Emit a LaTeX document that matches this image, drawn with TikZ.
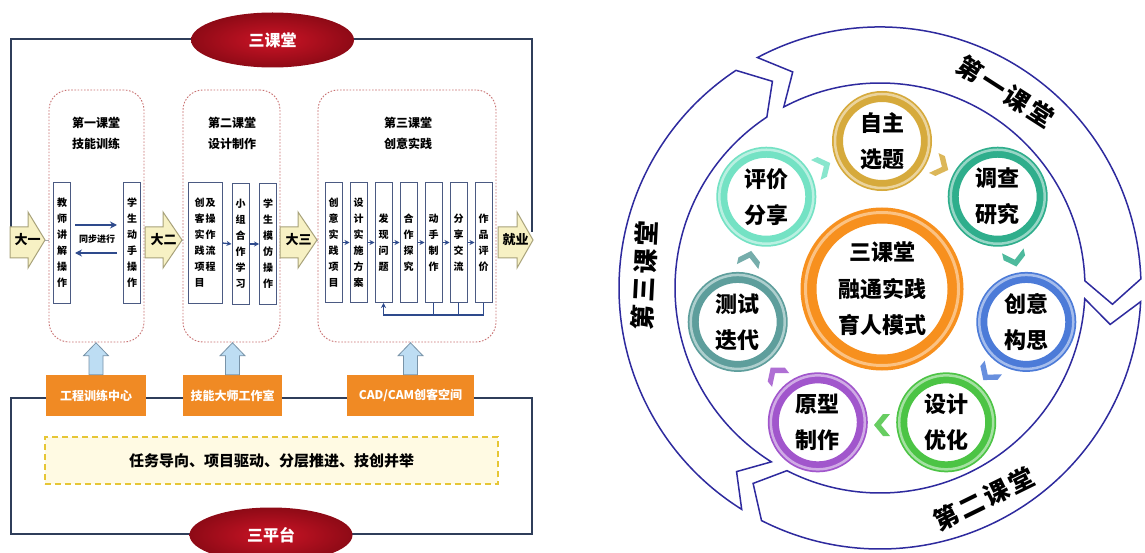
\documentclass[tikz,border=0pt]{standalone}
\usepackage{fontspec}
\setmainfont{Noto Sans CJK SC}
\usetikzlibrary{calc,arrows.meta,shapes.geometric}
\definecolor{framec}{HTML}{2F3E5A}
\definecolor{ellredA}{HTML}{CC1426}
\definecolor{ellredB}{HTML}{8E0A16}
\definecolor{dashred}{HTML}{C87070}
\definecolor{vboxc}{HTML}{4B5A82}
\definecolor{arrfill}{HTML}{F7F1C4}
\definecolor{arrdraw}{HTML}{A8A27A}
\definecolor{navyc}{HTML}{2E4A8C}
\definecolor{orangeb}{HTML}{F08A24}
\definecolor{lbluec}{HTML}{BDDDF3}
\definecolor{lbluedraw}{HTML}{7893A8}
\definecolor{yfillc}{HTML}{FFFAE3}
\definecolor{ydrawc}{HTML}{E6C635}
\definecolor{ringc}{HTML}{2E2A9E}
\definecolor{cgold}{HTML}{D6AA3C}
\definecolor{cteal}{HTML}{2FAE8C}
\definecolor{cblue}{HTML}{4C7BD8}
\definecolor{cgreen}{HTML}{4CC445}
\definecolor{cpurple}{HTML}{A156CC}
\definecolor{cslate}{HTML}{5E9E9C}
\definecolor{caqua}{HTML}{74E2C4}
\definecolor{corange}{HTML}{F7901E}
\tikzset{
  framel/.style={draw=framec, line width=1.8},
  redell/.style={ellipse, inner color=ellredA, outer color=ellredB, minimum width=163, minimum height=55, text=white, font=\bfseries\fontsize{16}{16}\selectfont, inner sep=0},
  dashbox/.style={draw=dashred, line width=0.9, dash pattern=on 1.6pt off 1.6pt, rounded corners=20, inner sep=0},
  ttl/.style={font=\bfseries\fontsize{12}{21}\selectfont, align=center},
  vb/.style={draw=vboxc, line width=1, fill=white, minimum width=17, minimum height=120, inner sep=0, font=\bfseries\fontsize{10}{16}\selectfont, align=center},
  bigarr/.style={fill=arrfill, draw=arrdraw, line width=1},
  arrtext/.style={font=\bfseries\fontsize{13}{13}\selectfont, inner sep=0},
  smallarr/.style={draw=navyc, line width=1.3, -{Stealth[length=5,width=5]}},
  syncarr/.style={draw=navyc, line width=1.8, -{Stealth[length=7,width=7]}},
  orbox/.style={fill=orangeb, text=white, font=\bfseries\fontsize{12}{12}\selectfont, minimum height=41, inner sep=0},
  upar/.style={fill=lbluec, draw=lbluedraw, line width=0.8},
  grayc/.style={draw=gray!70, line width=0.9},
  ringl/.style={draw=ringc, line width=1.5, fill=white},
  ringtxt/.style={font=\bfseries\fontsize{25}{25}\selectfont, inner sep=0},
  sat/.style={circle, line width=11, minimum size=89, fill=white, inner sep=0, font=\bfseries\fontsize{22}{36}\selectfont, align=center},
}
\newcommand\bigarrow[5]{%
  \draw[bigarr] (#2,227) -- (#3,227) -- (#3,212) -- (#4,240) -- (#3,268) -- (#3,258) -- (#2,258) -- cycle;
  \coordinate (#1-tip) at (#4,240);
  \node[arrtext] (#1) at ({(#2+#4)/2},240) {#5};}
\newcommand\platarrow[2]{%
  \path (#1.north) coordinate (#2);
  \draw[upar] ($(#2)+(-7,0)$) -- ($(#2)+(-7,-19)$) -- ($(#2)+(-12.5,-19)$) -- ($(#2)+(0,-32)$) -- ($(#2)+(12.5,-19)$) -- ($(#2)+(7,-19)$) -- ($(#2)+(7,0)$) -- cycle;}
\newcommand\spc{\hspace{3pt}}
\begin{document}
\begin{tikzpicture}[x=1pt,y=-1pt]
\useasboundingbox (0,0) rectangle (1145,553);
\fill[white] (0,0) rectangle (1145,553);

% ---------- left diagram ----------
\coordinate (f1) at (11,227);
\coordinate (f2) at (11,39);
\coordinate (f3) at (532,39);
\coordinate (f4) at (532,232);
\draw[framel] (f1) -- (f2) -- (f3) -- (f4);
\coordinate (g1) at (11,398);
\coordinate (g2) at (11,534);
\coordinate (g3) at (532,534);
\coordinate (g4) at (532,398);
\draw[framel] (g1) -- (g2) -- (g3) -- (g4) -- cycle;

\node[redell] (sanke) at (272.5,40) {三课堂};

\node[dashbox, minimum width=95, minimum height=252] (box1) at (96.5,216) {};
\node[dashbox, minimum width=97, minimum height=252] (box2) at (231.5,216) {};
\node[dashbox, minimum width=178, minimum height=252] (box3) at (407,216) {};

\node[ttl] (t1) at (96,133) {第一课堂\\技能训练};
\node[ttl] (t2) at (232,133) {第二课堂\\设计制作};
\node[ttl] (t3) at (408,133) {第三课堂\\创意实践};

\node[vb] (v11) at (62,243) {教\\师\\讲\\解\\操\\作};
\node[vb] (v12) at (132,243) {学\\生\\动\\手\\操\\作};
\draw[syncarr] ($(v11.east)+(4,-18)$) -- ($(v12.west)+(-6,-18)$);
\draw[syncarr] ($(v12.west)+(-6,10)$) -- ($(v11.east)+(4,10)$);
\node[font=\bfseries\fontsize{9}{9}\selectfont, inner sep=0] (sync) at (97,239) {同步进行};

\node[vb, minimum width=34] (v21) at (205,243) {\begin{tabular}{@{}c@{\hspace{1pt}}c@{}}创&及\\客&操\\实&作\\践&流\\项&程\\目&\end{tabular}};
\node[vb] (v22) at (240.5,244) {小\\组\\合\\作\\学\\习};
\node[vb] (v23) at (268,244) {学\\生\\模\\仿\\操\\作};
\draw[smallarr] (v21.east) -- (v22.west);
\draw[smallarr] (v22.east) -- (v23.west);

\node[vb] (v31) at (333.5,242.5) {创\\意\\实\\践\\项\\目};
\node[vb] (v32) at (358.5,242.5) {设\\计\\实\\施\\方\\案};
\node[vb] (v33) at (383.5,242.5) {发\\现\\问\\题};
\node[vb] (v34) at (408.5,242.5) {合\\作\\探\\究};
\node[vb] (v35) at (433.5,242.5) {动\\手\\制\\作};
\node[vb] (v36) at (458.5,242.5) {分\\享\\交\\流};
\node[vb] (v37) at (483.5,242.5) {作\\品\\评\\价};
\foreach \a/\b in {v31/v32,v32/v33,v33/v34,v34/v35,v35/v36,v36/v37}
  \draw[smallarr] (\a.east) -- (\b.west);
\draw[smallarr] (v37.south) -- ++(0,12) -| (v33.south);
\draw[draw=navyc, line width=1.3] (v35.south) -- ++(0,12);
\draw[draw=navyc, line width=1.3] (v36.south) -- ++(0,12);

\bigarrow{dayi}{10}{28}{45}{大一}
\bigarrow{daer}{145}{163}{182}{大二}
\bigarrow{dasan}{280}{298}{317}{大三}
\bigarrow{jiuye}{498}{517}{533}{就业}
\draw[grayc] (dayi-tip) -- (box1.west |- dayi-tip);
\draw[grayc] (daer-tip) -- (box2.west |- daer-tip);
\draw[grayc] (dasan-tip) -- (box3.west |- dasan-tip);

\node[orbox, minimum width=100] (o1) at (96,395.5) {工程训练中心};
\node[orbox, minimum width=99] (o2) at (232.5,395.5) {技能大师工作室};
\node[orbox, minimum width=127] (o3) at (410.5,395.5) {CAD/CAM创客空间};
\platarrow{o1}{u1}
\platarrow{o2}{u2}
\platarrow{o3}{u3}

\node[draw=ydrawc, fill=yfillc, line width=1.6, dash pattern=on 6pt off 4pt, minimum width=453, minimum height=47, inner sep=0, font=\bfseries\fontsize{15}{15}\selectfont] (motto) at (271.5,460.5) {任务导向、项目驱动、分层推进、技创并举};

\node[redell] (sanping) at (271,535) {三平台};

% ---------- right diagram: outer ring ----------
\begin{scope}[shift={(880,288)}, y=1pt]
  \draw[ringl] (118:261) arc[start angle=118, end angle=2, radius=261] -- (-4:233) -- (2:205) arc[start angle=2, end angle=118, radius=205] -- (112:233) -- cycle;
  \draw[ringl] (-3:261) arc[start angle=-3, end angle=-117, radius=261] -- (-123:233) -- (-117:205) arc[start angle=-117, end angle=-3, radius=205] -- (-9:233) -- cycle;
  \draw[ringl] (-122:261) arc[start angle=-122, end angle=-236.5, radius=261] -- (-242.5:233) -- (-236.5:205) arc[start angle=-236.5, end angle=-122, radius=205] -- (-128:233) -- cycle;
  \node[ringtxt, rotate=-32.7] (ra) at (57.3:233) {第\spc 一\spc 课\spc 堂};
  \node[ringtxt, rotate=26.2] (rb) at (-63.8:235) {第\spc 二\spc 课\spc 堂};
  \node[ringtxt, rotate=87] (rc) at (177:236) {第\spc 三\spc 课\spc 堂};
\end{scope}

% ---------- right diagram: circles ----------
\begin{scope}[shift={(882,289)}, y=1pt]
  \node[circle, draw=corange, line width=16, minimum size=147, fill=white, inner sep=0, font=\bfseries\fontsize{22}{36.5}\selectfont, align=center] (core) at (0,0) {三课堂\\融通实践\\育人模式};
  \draw[corange!55!white, line width=3] (core.center) circle (76.5);
  \foreach \i/\col/\txt in {0/cgold/{自主\\选题},1/cteal/{调查\\研究},2/cblue/{创意\\构思},3/cgreen/{设计\\优化},4/cpurple/{原型\\制作},5/cslate/{测试\\迭代},6/caqua/{评价\\分享}} {
    \node[sat, draw=\col] (s\i) at ({90-51.4286*\i}:148) {\txt};
    \draw[\col!50!white, line width=2.5] (s\i.center) circle (47);
  }
  \foreach \i/\col in {0/cgold,1/cteal,2/cblue,3/cgreen,4/cpurple,5/cslate,6/caqua} {
    \begin{scope}[shift={({90-51.4286*(\i+0.5)}:136)}, rotate={-51.4286*(\i+0.5)}]
      \fill[\col!85!white] (-8,11) -- (-1,11) -- (8,0) -- (-1,-11) -- (-8,-11) -- (1,0) -- cycle;
    \end{scope}
  }
\end{scope}
\end{tikzpicture}
\end{document}
